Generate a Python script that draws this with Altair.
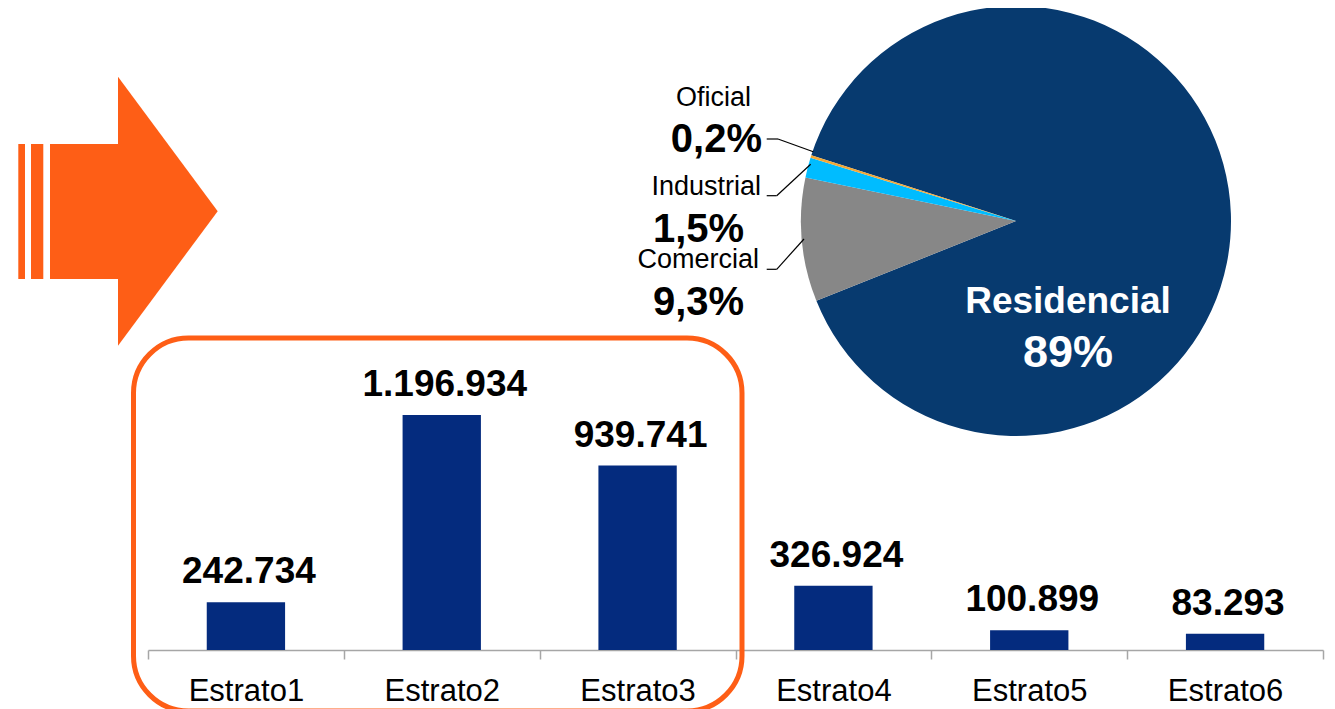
import math
import altair as alt
import pandas as pd

# ---------------- data ----------------
estratos = ["Estrato1", "Estrato2", "Estrato3", "Estrato4", "Estrato5", "Estrato6"]
usuarios = [242734, 1196934, 939741, 326924, 100899, 83293]

sectores = ["Residencial", "Comercial", "Industrial", "Oficial"]
porcentajes = [89, 9.3, 1.5, 0.2]
etiquetas_pct = ["89%", "9,3%", "1,5%", "0,2%"]
colores = ["#073A6F", "#878787", "#00BCFF", "#F2A735"]

# ---------------- style ----------------
FONT = "Liberation Sans"
ORANGE = "#FE5E16"
BAR = "#042B7E"
AXIS = "#A6A6A6"

bars_df = pd.DataFrame({
    "estrato": estratos,
    "usuarios": usuarios,
    "label": [f"{v:,}".replace(",", ".") for v in usuarios],
})
pie_df = pd.DataFrame({
    "sector": sectores,
    "pct": porcentajes,
    "orden": list(range(1, len(sectores) + 1)),
})

x_axis = alt.Axis(
    title="", domainColor=AXIS, domainWidth=1.5, tickColor=AXIS, tickWidth=1.5,
    tickSize=9, tickBand="extent", labelFont=FONT, labelFontSize=31,
    labelColor="black", labelPadding=41, labelBaseline="alphabetic",
    labelAngle=0,
)
x_enc = alt.X("estrato:N", sort=estratos,
              scale=alt.Scale(paddingInner=0, paddingOuter=0), axis=x_axis)
y_enc = alt.Y("usuarios:Q", scale=alt.Scale(domain=[0, 3270000], nice=False),
              axis=None)

bars = alt.Chart(bars_df).mark_bar(
    color=BAR, width=alt.RelativeBandSize(0.4)
).encode(x=x_enc, y=y_enc)
bar_labels = alt.Chart(bars_df).mark_text(
    font=FONT, fontSize=37, fontWeight="bold", color="black",
    baseline="alphabetic", dy=-19, dx=3,
).encode(x=alt.X("estrato:N", sort=estratos), y="usuarios:Q", text="label:N")

start = math.radians(-72.2)
pie = alt.Chart(pie_df).mark_arc(radius=215).encode(
    theta=alt.Theta("pct:Q", stack=True,
                    scale=alt.Scale(range=[start, start + 2 * math.pi])),
    color=alt.Color("sector:N", scale=alt.Scale(domain=sectores, range=colores),
                    legend=None),
    order=alt.Order("orden:Q", sort="ascending"),
    x=alt.value(868), y=alt.value(213),
)

dummy = pd.DataFrame({"a": [0]})


def rect(x, x2, y, y2, **kw):
    return alt.Chart(dummy).mark_rect(**kw).encode(
        x=alt.value(x), x2=alt.value(x2), y=alt.value(y), y2=alt.value(y2))


def rule(x, y, x2, y2):
    return alt.Chart(dummy).mark_rule(color="black", strokeWidth=1.2).encode(
        x=alt.value(x), y=alt.value(y), x2=alt.value(x2), y2=alt.value(y2))


def label(txt, x, y, size, bold=False, align="center", color="black"):
    return alt.Chart(dummy).mark_text(
        text=txt, font=FONT, fontSize=size, fontWeight="bold" if bold else "normal",
        align=align, baseline="alphabetic", color=color,
    ).encode(x=alt.value(x), y=alt.value(y))


# arrow (decorative)
arrow = [
    rect(-129.7, -123, 136, 271, color=ORANGE, opacity=1),
    rect(-117, -104.7, 136, 271, color=ORANGE, opacity=1),
    rect(-98, -29, 136, 271, color=ORANGE, opacity=1),
    alt.Chart(dummy).mark_point(
        shape="M -0.3706,-1 L 0.3706,0 L -0.3706,1 Z", size=269 * 269,
        filled=True, color=ORANGE, opacity=1, strokeWidth=0,
    ).encode(x=alt.value(19.85), y=alt.value(203.2)),
]

frame = rect(-14.5, 594, 330, 703, fillOpacity=0, stroke=ORANGE,
             strokeWidth=5, cornerRadius=55)

pct = dict(zip(sectores, etiquetas_pct))
pie_labels = [
    label("Oficial", 565.5, 98, 27),
    label(pct["Oficial"], 614, 144, 40, bold=True, align="right"),
    label("Industrial", 613, 187, 27, align="right"),
    label(pct["Industrial"], 550.5, 234, 40, bold=True),
    label("Comercial", 611, 260.3, 27, align="right"),
    label(pct["Comercial"], 550.5, 307, 40, bold=True),
    label("Residencial", 920, 305.3, 37, bold=True, color="white"),
    label(pct["Residencial"], 920, 358.7, 45, bold=True, color="white"),
]

leaders = [
    rule(618.7, 131, 630, 131), rule(630, 131, 665.3, 143.7),
    rule(618.7, 187.7, 628.7, 187.7), rule(628.7, 187.7, 662.7, 156.3),
    rule(618.7, 261.3, 628.7, 261.3), rule(628.7, 261.3, 656, 231),
]

chart = alt.layer(
    *arrow, frame, pie, *leaders, *pie_labels, bars, bar_labels,
).properties(
    width=1175, height=642,
    autosize=alt.AutoSizeParams(type="none"),
    padding={"left": 140, "top": 0, "right": 4, "bottom": 59},
    background="white",
).configure_view(strokeWidth=0)

chart.save("out.html", embed_options={"renderer": "svg", "actions": False})
